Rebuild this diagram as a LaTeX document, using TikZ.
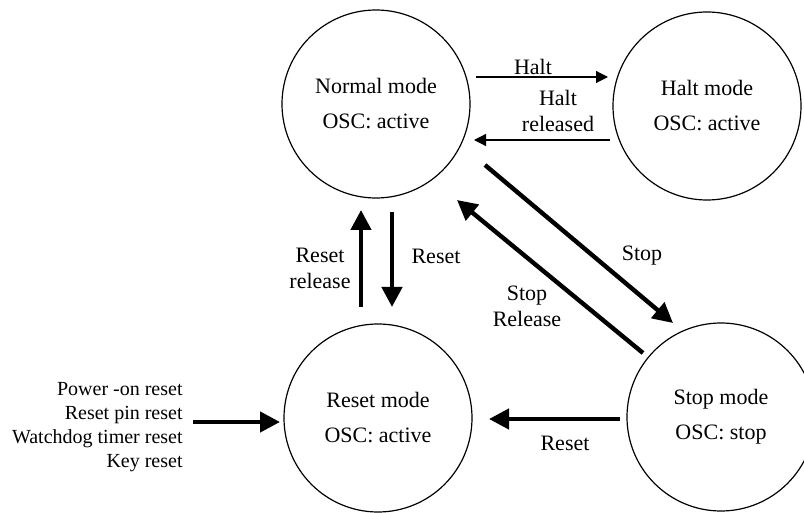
\documentclass[tikz,border=0pt]{standalone}
\usepackage{fontspec}
\setmainfont{Liberation Serif}
\usepackage{tikz}
\usetikzlibrary{arrows.meta, calc}

\begin{document}
\begin{tikzpicture}[
  x=0.5pt, y=-0.5pt,
  modenode/.style={circle, draw, line width=0.6pt, minimum size=94pt, inner sep=0pt,
    align=center, font=\fontsize{11pt}{17.5pt}\selectfont},
  thinarrow/.style={line width=0.6pt, -{Triangle[length=6pt, width=6pt]}},
  thickarrow/.style={line width=2.2pt, -{Triangle[length=10pt, width=10pt]}},
  lbl/.style={inner sep=0pt, align=center, font=\fontsize{11pt}{13pt}\selectfont},
]
  \useasboundingbox (0,0) rectangle (804,513);

  % Modes
  \node[modenode] (normal) at (376,104) {Normal mode\\OSC: active};
  \node[modenode] (halt)   at (707,106) {Halt mode\\OSC: active};
  \node[modenode] (reset)  at (378,418) {Reset mode\\OSC: active};
  \node[modenode] (stop)   at (721,417) {Stop mode\\OSC: stop};

  % Normal <-> Halt
  \draw[thinarrow] ($(normal.center)+(100,-27)$) -- ($(halt.center)+(-99,-29)$);
  \node[lbl] (haltlbl) at (533,67) {Halt};
  \draw[thinarrow] ($(halt.center)+(-97,34)$) -- ($(normal.center)+(98,36)$);
  \node[lbl] (haltrel) at (558,111) {Halt\\released};

  % Normal <-> Stop
  \draw[thickarrow] ($(normal.center)+(109,61)$) -- ($(stop.center)+(-48,-94)$);
  \node[lbl] (stoplbl) at (642,256) {Stop};
  \draw[thickarrow] ($(stop.center)+(-78,-64)$) -- ($(normal.center)+(81,96)$);
  \node[lbl] (stoprel) at (527,306) {Stop\\Release};

  % Normal <-> Reset
  \draw[thickarrow] ($(reset.center)+(-17,-111)$) -- ($(normal.center)+(-15,106)$);
  \node[lbl] (resetrel) at (320,268) {Reset\\release};
  \draw[thickarrow] ($(normal.center)+(16,108)$) -- ($(reset.center)+(14,-111)$);
  \node[lbl] (resetlbl) at (436,256) {Reset};

  % Stop -> Reset
  \draw[thickarrow] ($(stop.center)+(-101,2)$) -- ($(reset.center)+(111,1)$);
  \node[lbl] (stopreset) at (565,443) {Reset};

  % Reset sources
  \node[inner sep=0pt, anchor=east, align=right, font=\fontsize{10pt}{12pt}\selectfont]
    (sources) at (183,427) {Power -on reset\\Reset pin reset\\Watchdog timer reset\\Key reset};
  \draw[thickarrow] ($(sources.east)+(10,-5)$) -- ($(reset.center)+(-98,4)$);

\end{tikzpicture}
\end{document}
